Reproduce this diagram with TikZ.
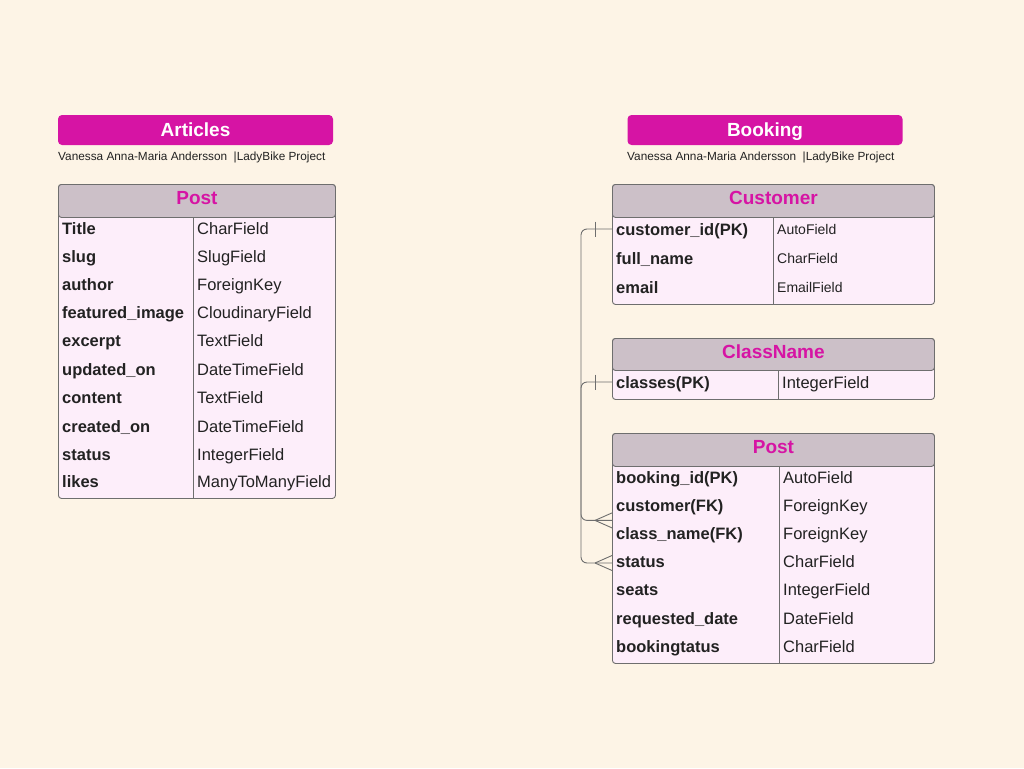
\documentclass[tikz,border=0pt]{standalone}
\usepackage{fontspec}
\setmainfont{Liberation Sans}
\usepackage{tikz}
\usepackage{xcolor}
\usetikzlibrary{calc,positioning}
\definecolor{paper}{RGB}{253,244,230}
\definecolor{magenta76}{RGB}{214,20,164}
\definecolor{headgray}{RGB}{204,192,200}
\definecolor{rowpink}{RGB}{253,238,250}
\definecolor{gray}{RGB}{110,110,110}
\definecolor{ink}{RGB}{34,34,34}

\begin{document}
\begin{tikzpicture}[x=1pt,y=-1pt]
    \tikzstyle{banner}=[rectangle,rounded corners=4pt,fill=magenta76,%
    text=white,font=\fontsize{19}{21}\selectfont\bfseries,%
    text height=13.6pt,text depth=0pt,%
    minimum width=275pt,minimum height=30pt,inner sep=0pt] %
    \tikzstyle{byline}=[anchor=west,inner sep=0pt,text=ink,%
    text height=8.6pt,text depth=0pt,font=\fontsize{11.8}{13}\selectfont] %
    \tikzstyle{tframe}=[rectangle,rounded corners=3pt,draw=gray,fill=rowpink,%
    anchor=north west,inner sep=0pt,line width=0.9pt] %
    \tikzstyle{thead}=[rectangle,rounded corners=3pt,draw=gray,fill=headgray,%
    anchor=north west,inner sep=0pt,line width=0.9pt,text=magenta76,%
    text height=13.6pt,text depth=6pt,font=\fontsize{19}{21}\selectfont\bfseries] %
    \tikzstyle{fname}=[anchor=west,inner xsep=4pt,text=ink,text height=12pt,%
    text depth=0pt,font=\fontsize{16.5}{18}\selectfont\bfseries] %
    \tikzstyle{ftype}=[anchor=west,inner xsep=4pt,text=ink,text height=12pt,%
    text depth=0pt,font=\fontsize{16.5}{18}\selectfont] %
    \tikzstyle{fsmall}=[ftype,text height=10pt,font=\fontsize{14}{16}\selectfont] %
    \tikzstyle{divider}=[draw=gray,line width=0.9pt] %
    \tikzstyle{rel}=[draw=gray,line width=0.9pt,rounded corners=6pt] %

    \fill[paper] (0,0) rectangle (1024,768);
    \useasboundingbox (0,0) rectangle (1024,768);

    % left: Articles
    \node[banner] (ART) at (195.5,130) {Articles};
    \node[byline] (ARTby) at (58,156) {Vanessa Anna-Maria Andersson\ \ |LadyBike Project};

    \node[tframe,minimum width=277pt,minimum height=314pt] (APOST) at (58,184) {};
    \node[thead,minimum width=277pt,minimum height=33pt] (APOSThd) at (58,184) {Post};

    \node[fname] (aTitle) at (58,228) {Title};
    \node[fname] (aSlug) at (58,256) {slug};
    \node[fname] (aAuthor) at (58,284) {author};
    \node[fname] (aImage) at (58,312) {featured\_image};
    \node[fname] (aExcerpt) at (58,340) {excerpt};
    \node[fname] (aUpdated) at (58,369) {updated\_on};
    \node[fname] (aContent) at (58,397) {content};
    \node[fname] (aCreated) at (58,426) {created\_on};
    \node[fname] (aStatus) at (58,454) {status};
    \node[fname] (aLikes) at (58,481) {likes};

    \node[ftype] (tTitle) at (193,228) {CharField};
    \node[ftype] (tSlug) at (193,256) {SlugField};
    \node[ftype] (tAuthor) at (193,284) {ForeignKey};
    \node[ftype] (tImage) at (193,312) {CloudinaryField};
    \node[ftype] (tExcerpt) at (193,340) {TextField};
    \node[ftype] (tUpdated) at (193,369) {DateTimeField};
    \node[ftype] (tContent) at (193,397) {TextField};
    \node[ftype] (tCreated) at (193,426) {DateTimeField};
    \node[ftype] (tStatus) at (193,454) {IntegerField};
    \node[ftype] (tLikes) at (193,481) {ManyToManyField};

    \path[divider] (tTitle.west |- APOSThd.south) -- (tTitle.west |- APOST.south);

    % right: Booking
    \node[banner] (BOOK) at (765,130) {Booking};
    \node[byline] (BOOKby) at (627,156) {Vanessa Anna-Maria Andersson\ \ |LadyBike Project};

    \node[tframe,minimum width=322pt,minimum height=120pt] (CUST) at (612,184) {};
    \node[thead,minimum width=322pt,minimum height=33pt] (CUSThd) at (612,184) {Customer};
    \node[fname] (cId) at (612,229) {customer\_id(PK)};
    \node[fname] (cName) at (612,258) {full\_name};
    \node[fname] (cEmail) at (612,287) {email};
    \node[fsmall] (tcId) at (773,229) {AutoField};
    \node[fsmall] (tcName) at (773,258) {CharField};
    \node[fsmall] (tcEmail) at (773,287) {EmailField};
    \path[divider] (tcId.west |- CUSThd.south) -- (tcId.west |- CUST.south);

    \node[tframe,minimum width=322pt,minimum height=61pt] (CLS) at (612,338) {};
    \node[thead,minimum width=322pt,minimum height=32pt] (CLShd) at (612,338) {ClassName};
    \node[fname] (kClasses) at (612,382) {classes(PK)};
    \node[ftype] (tkClasses) at (778,382) {IntegerField};
    \path[divider] (tkClasses.west |- CLShd.south) -- (tkClasses.west |- CLS.south);

    \node[tframe,minimum width=322pt,minimum height=230pt] (BPOST) at (612,433) {};
    \node[thead,minimum width=322pt,minimum height=33pt] (BPOSThd) at (612,433) {Post};
    \node[fname] (bId) at (612,477) {booking\_id(PK)};
    \node[fname] (bCust) at (612,505) {customer(FK)};
    \node[fname] (bClass) at (612,533) {class\_name(FK)};
    \node[fname] (bStatus) at (612,561) {status};
    \node[fname] (bSeats) at (612,589) {seats};
    \node[fname] (bDate) at (612,618) {requested\_date};
    \node[fname] (bBooking) at (612,646) {bookingtatus};
    \node[ftype] (tbId) at (779,477) {AutoField};
    \node[ftype] (tbCust) at (779,505) {ForeignKey};
    \node[ftype] (tbClass) at (779,533) {ForeignKey};
    \node[ftype] (tbStatus) at (779,561) {CharField};
    \node[ftype] (tbSeats) at (779,589) {IntegerField};
    \node[ftype] (tbDate) at (779,618) {DateField};
    \node[ftype] (tbBooking) at (779,646) {CharField};
    \path[divider] (tbId.west |- BPOSThd.south) -- (tbId.west |- BPOST.south);

    % relations
    \coordinate (CUSTfoot) at ($(bCust.west)!0.55!(bClass.west)$);
    \coordinate (CLSfoot) at ($(bStatus.west)+(0,2)$);

    \path[rel] (cId.west) -- ++(-31,0) |- (CUSTfoot);
    \path[rel] (kClasses.west) -- ++(-31,0) |- (CLSfoot);

    \path[rel] ($(cId.west)+(-17,-7.5)$) -- ($(cId.west)+(-17,7.5)$);
    \path[rel] ($(kClasses.west)+(-17,-7.5)$) -- ($(kClasses.west)+(-17,7.5)$);

    \path[rel] ($(CUSTfoot)+(-17,0)$) -- ($(CUSTfoot)+(0,-7.5)$);
    \path[rel] ($(CUSTfoot)+(-17,0)$) -- ($(CUSTfoot)+(0,7.5)$);
    \path[rel] ($(CLSfoot)+(-17,0)$) -- ($(CLSfoot)+(0,-7.5)$);
    \path[rel] ($(CLSfoot)+(-17,0)$) -- ($(CLSfoot)+(0,7.5)$);
\end{tikzpicture}
\end{document}
